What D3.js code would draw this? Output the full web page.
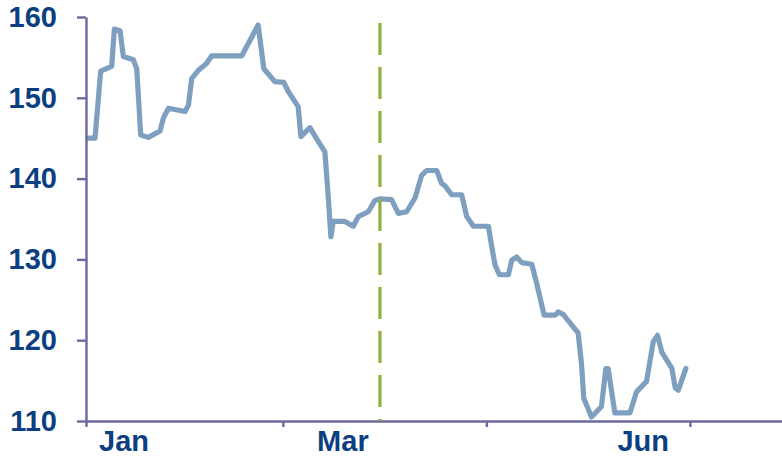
<!DOCTYPE html>
<html>
<head>
<meta charset="utf-8">
<script src="https://cdn.jsdelivr.net/npm/d3@7"></script>
<style>
  html, body { margin: 0; padding: 0; background: #fff; }
  svg { display: block; }
</style>
</head>
<body>
<div id="chart"></div>
<script>
// Day offsets from 1 Jan and index values
const days = [0.6, 2.7, 4.4, 7.7, 8.5, 10.2, 11.2, 14.2, 15.2, 16.4, 18.7, 22.2, 23.2, 24.7, 29.7, 30.7, 31.7, 33.7, 35.7, 36.2, 37.7, 46.7, 51.6, 53.3, 56.6, 59.3, 60.6, 63.6, 64.4, 67.1, 69.6, 71.6, 72.6, 73.4, 74.1, 77.6, 80.1, 81.6, 84.6, 86.6, 88.1, 91.6, 93.6, 96.1, 98.6, 100.6, 102.1, 105.1, 106.6, 107.6, 109.6, 112.6, 114.1, 116.1, 120.6, 121.6, 122.6, 123.9, 126.6, 127.6, 129.1, 130.6, 133.6, 135.1, 137.3, 140.6, 141.5, 143.0, 147.5, 148.5, 149.2, 151.5, 154.5, 155.8, 156.5, 158.5, 163.0, 165.0, 168.0, 170.0, 171.3, 172.6, 175.6, 176.6, 177.5, 179.8];
const values = [145.0, 145.0, 153.3, 153.9, 158.5, 158.3, 155.1, 154.7, 153.6, 145.4, 145.1, 145.9, 147.5, 148.7, 148.3, 149.1, 152.4, 153.4, 154.1, 154.3, 155.2, 155.2, 159.0, 153.6, 152.0, 151.9, 150.8, 148.9, 145.2, 146.3, 144.6, 143.3, 137.8, 132.8, 134.7, 134.7, 134.1, 135.3, 135.9, 137.3, 137.5, 137.4, 135.7, 135.9, 137.6, 140.4, 141.0, 141.0, 139.4, 139.1, 138.0, 138.0, 135.3, 134.1, 134.1, 131.6, 129.3, 128.1, 128.1, 129.9, 130.3, 129.6, 129.4, 127.0, 123.1, 123.1, 123.5, 123.2, 120.9, 117.1, 112.8, 110.5, 111.8, 116.5, 116.5, 111.0, 111.0, 113.6, 114.9, 119.8, 120.6, 118.5, 116.5, 114.1, 113.8, 116.5];

const yTicks = [110, 120, 130, 140, 150, 160];
const xTickDays = [0, 59, 120, 181];          // 1 Jan, 1 Mar, 1 May, 1 Jul
const xLabelNames = ["Jan", "Mar", "Jun"];
const xLabelDays = [11.4, 77.0, 167.0];
const markerDay = 88.1;                        // dashed vertical marker
const xDomain = [0, 208.6];
const yDomain = [110, 160];

const W = 782, H = 459;
const mLeft = 86, mRight = 782, mTop = 17, mBottom = 421;

const svg = d3.select("#chart").append("svg")
  .attr("width", W).attr("height", H);

const x = d3.scaleLinear().domain(xDomain).range([mLeft, mRight]);
const y = d3.scaleLinear().domain(yDomain).range([mBottom, mTop]);

const axisColor = "#6c6a9c";
const textColor = "#0b3f7f";

// line
const data = days.map((d, i) => ({ d, v: values[i] }));
svg.append("path")
  .datum(data)
  .attr("fill", "none")
  .attr("stroke", "#7f9fc1")
  .attr("stroke-width", 5.2)
  .attr("stroke-linejoin", "round")
  .attr("stroke-linecap", "round")
  .attr("d", d3.line().x(p => x(p.d)).y(p => y(p.v)));

// y axis
const yAxis = svg.append("g")
  .attr("transform", `translate(${mLeft},0)`)
  .call(d3.axisLeft(y).tickValues(yTicks).tickSize(9).tickSizeOuter(0).tickPadding(20).tickFormat(d3.format("d")));
yAxis.select(".domain").attr("stroke", axisColor).attr("stroke-width", 2.4);
yAxis.selectAll(".tick line").attr("stroke", axisColor).attr("stroke-width", 2.4);
yAxis.selectAll(".tick text")
  .attr("fill", textColor)
  .style("font-family", "'Liberation Sans', Arial, sans-serif")
  .style("font-weight", "bold")
  .style("font-size", "29px");

// x axis
const xAxis = svg.append("g")
  .attr("transform", `translate(0,${mBottom})`)
  .call(d3.axisBottom(x).tickValues(xTickDays).tickSize(6).tickSizeOuter(0).tickFormat(""));
xAxis.select(".domain").attr("stroke", axisColor).attr("stroke-width", 2.4);
xAxis.selectAll(".tick line").attr("stroke", axisColor).attr("stroke-width", 2.4);

// x labels
svg.append("g").selectAll("text")
  .data(xLabelNames)
  .join("text")
  .attr("x", (d, i) => x(xLabelDays[i]))
  .attr("y", 451)
  .attr("text-anchor", "middle")
  .attr("fill", textColor)
  .style("font-family", "'Liberation Sans', Arial, sans-serif")
  .style("font-weight", "bold")
  .style("font-size", "29px")
  .text(d => d);

// dashed marker
svg.append("line")
  .attr("x1", x(markerDay)).attr("x2", x(markerDay))
  .attr("y1", 23).attr("y2", mBottom)
  .attr("stroke", "#8cb13d")
  .attr("stroke-width", 3.2)
  .attr("stroke-dasharray", "32,12");
</script>
</body>
</html>
